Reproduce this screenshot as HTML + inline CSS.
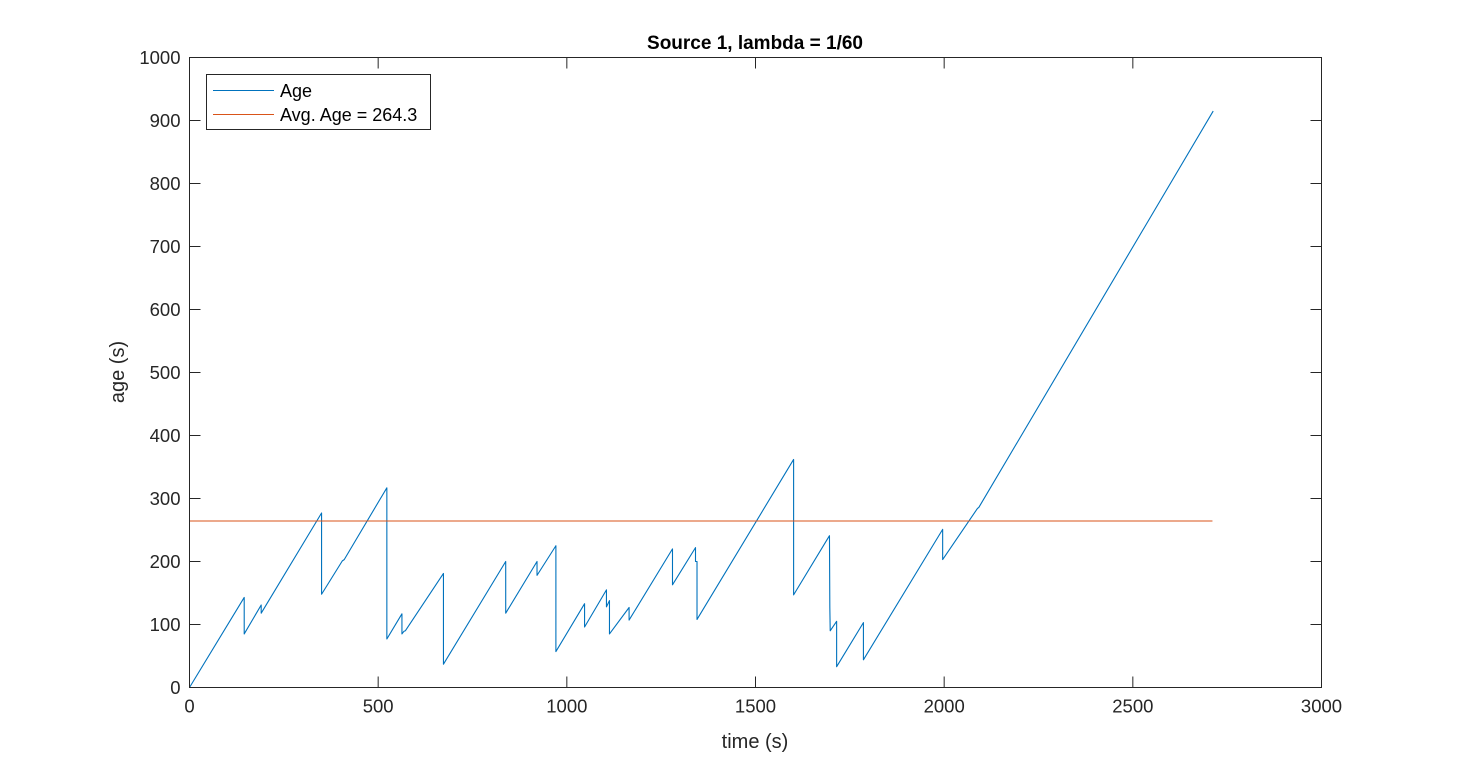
<!DOCTYPE html>
<html><head><meta charset="utf-8"><style>
html,body{margin:0;padding:0;background:#fff;}
svg{display:block;font-family:"Liberation Sans",Arial,sans-serif;}
</style></head><body>
<svg id="chart" width="1461" height="772" viewBox="0 0 1461 772">
<rect x="0" y="0" width="1461" height="772" fill="#fff"/>
<g id="grid"></g>
<g id="marks"></g>
<g id="axes"></g>
</svg>
<script>
const ageTimes = [0,145,145,190,190,350,350,405,410,523,523,563,563,568,572,673,673,838,838,921,921,971,971,1047,1047,1105,1105,1113,1113,1165,1165,1280,1280,1341,1341,1345,1345,1601,1601,1696,1697,1698,1715,1715,1786,1786,1996,1996,2088,2092,2713];
const ageValues = [0,143,85,131,118,277,148,201,203,317,77,117,85,89,90,181,37,200,118,200,178,225,57,133,96,155,128,138,85,127,107,220,163,222,200,200,108,362,147,241,127,90,105,33,103,44,251,203,284,286,915];
const avgAge = 264.3;
const avgRange = [0, 2711];
const xTicks = [0,500,1000,1500,2000,2500,3000];
const yTicks = [0,100,200,300,400,500,600,700,800,900,1000];

const L=189.5,R=1321.5,T=57.5,B=687.5;
const xs = v => L + (v-0)/(3000-0)*(R-L);
const ys = v => B - (v-0)/(1000-0)*(B-T);
const NS="http://www.w3.org/2000/svg";
function mk(tag, attrs, parent){const e=document.createElementNS(NS,tag);for(const k in attrs)e.setAttribute(k,attrs[k]);parent.appendChild(e);return e;}
const marks=document.getElementById('marks'), axes=document.getElementById('axes');

let d = ageTimes.map((t,i)=>(i?'L':'M')+xs(t).toFixed(2)+','+ys(ageValues[i]).toFixed(2)).join(' ');
const ageLine = mk('path',{d:d,fill:'none',stroke:'#0072bd','stroke-width':1.1,'stroke-linejoin':'round'},marks);


const avgLine = mk('line',{x1:xs(avgRange[0]),x2:xs(avgRange[1]),y1:ys(avgAge),y2:ys(avgAge),stroke:'#d95319','stroke-width':1.1},marks);



const box = mk('rect',{x:L,y:T,width:R-L,height:B-T,fill:'none',stroke:'#262626','stroke-width':1},axes);


xTicks.forEach(v=>{
  const x=xs(v);
  mk('line',{x1:x,x2:x,y1:B,y2:B-11,stroke:'#262626'},axes);
  mk('line',{x1:x,x2:x,y1:T,y2:T+11,stroke:'#262626'},axes);
  const t=mk('text',{x:x,y:B+25,'text-anchor':'middle','font-size':18.5,fill:'#262626'},axes);
  t.textContent=v;
  
  
});
yTicks.forEach(v=>{
  const y=ys(v);
  mk('line',{x1:L,x2:L+11,y1:y,y2:y,stroke:'#262626'},axes);
  mk('line',{x1:R,x2:R-11,y1:y,y2:y,stroke:'#262626'},axes);
  const t=mk('text',{x:L-9,y:y+6.5,'text-anchor':'end','font-size':18.5,fill:'#262626'},axes);
  t.textContent=v;
  
  
});
</script>
<svg style="position:absolute;left:0;top:0" width="1461" height="772">
<text x="755" y="49" text-anchor="middle" font-size="19" font-weight="bold" fill="#000" font-family="Liberation Sans, Arial, sans-serif">Source 1, lambda = 1/60</text>
<text x="755" y="748" text-anchor="middle" font-size="20" fill="#262626" font-family="Liberation Sans, Arial, sans-serif">time (s)</text>
<text x="124" y="372" text-anchor="middle" font-size="20" fill="#262626" font-family="Liberation Sans, Arial, sans-serif" transform="rotate(-90 124 372)">age (s)</text>
<g>
<rect x="206.5" y="74.5" width="224" height="55" fill="#fff" stroke="#262626" stroke-width="1"/>
<line x1="213" x2="274" y1="90.5" y2="90.5" stroke="#0072bd" stroke-width="1.1"/>
<text x="280" y="97" font-size="18" fill="#000" font-family="Liberation Sans, Arial, sans-serif">Age</text>
<line x1="213" x2="274" y1="114.5" y2="114.5" stroke="#d95319" stroke-width="1.1"/>
<text x="280" y="121" font-size="18" fill="#000" font-family="Liberation Sans, Arial, sans-serif">Avg. Age = 264.3</text>
</g>
</svg>
</body></html>
